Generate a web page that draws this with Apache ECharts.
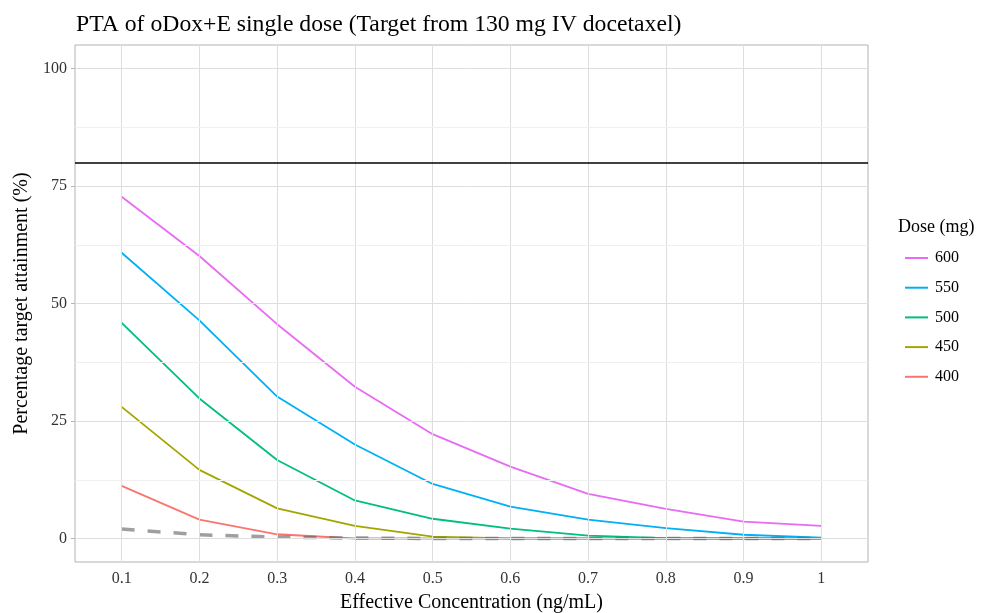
<!DOCTYPE html>
<html>
<head>
<meta charset="utf-8">
<script src="https://cdn.jsdelivr.net/npm/echarts@6/dist/echarts.min.js"></script>
<style>html,body{margin:0;padding:0;background:#fff;}#c{width:989px;height:613px;}</style>
</head>
<body>
<div id="c"></div>
<script>
const conc = [0.1, 0.2, 0.3, 0.4, 0.5, 0.6, 0.7, 0.8, 0.9, 1.0];
const dose400 = [11.2, 4.0, 0.9, 0.0, 0.0, 0.0, 0.0, 0.0, 0.0, 0.0];
const dose450 = [28.0, 14.6, 6.4, 2.7, 0.4, 0.0, 0.0, 0.0, 0.0, 0.0];
const dose500 = [45.9, 29.8, 16.7, 8.1, 4.2, 2.1, 0.6, 0.1, 0.0, 0.0];
const dose550 = [60.8, 46.4, 30.2, 20.0, 11.6, 6.8, 4.0, 2.2, 0.8, 0.2];
const dose600 = [72.7, 60.1, 45.6, 32.3, 22.2, 15.3, 9.5, 6.3, 3.6, 2.7];
const reference = [2.0, 0.8, 0.3, 0.1, 0.0, 0.0, 0.0, 0.0, 0.0, 0.0];
const target = 80;
const yTicks = [0, 25, 50, 75, 100];
const yMinor = [12.5, 37.5, 62.5, 87.5];
const doseNames = ['600', '550', '500', '450', '400'];

const font = 'Liberation Serif';
const pairs = v => conc.map((c, i) => [c, v[i]]);
const mk = (name, vals, color) => ({
  name, type: 'line', data: pairs(vals), symbol: 'none', showSymbol: false, z: 3,
  lineStyle: { color, width: 1.8, join: 'round', cap: 'round' }, itemStyle: { color }
});

const gridLines = [];
conc.forEach(c => gridLines.push({ xAxis: c, lineStyle: { color: '#dedede', width: 1, type: 'solid' } }));
yTicks.forEach(v => gridLines.push({ yAxis: v, lineStyle: { color: '#dedede', width: 1, type: 'solid' } }));
yMinor.forEach(v => gridLines.push({ yAxis: v, lineStyle: { color: '#efefef', width: 1, type: 'solid' } }));

const chart = echarts.init(document.getElementById('c'), null, { renderer: 'canvas' });
chart.setOption({
  animation: false,
  backgroundColor: '#fff',
  textStyle: { fontFamily: font },
  title: [
    { text: 'PTA of oDox+E single dose (Target from 130 mg IV docetaxel)', left: 71, top: 8,
      textStyle: { fontFamily: font, fontSize: 23.7, fontWeight: 'normal', color: '#000' } },
    { text: 'Dose (mg)', left: 893, top: 213,
      textStyle: { fontFamily: font, fontSize: 18, fontWeight: 'normal', color: '#000' } }
  ],
  legend: {
    data: doseNames, orient: 'vertical', left: 900, top: 245,
    icon: 'rect', itemWidth: 23, itemHeight: 2, itemGap: 13.7,
    textStyle: { fontFamily: font, fontSize: 16, lineHeight: 16, color: '#000', padding: [0, 0, 0, 2] }
  },
  grid: { left: 75, right: 121, top: 45, bottom: 51, show: true, borderColor: '#b3b3b3', borderWidth: 1,
    containLabel: false, outerBoundsMode: 'none' },
  xAxis: {
    type: 'value', min: 0.04, max: 1.06,
    name: 'Effective Concentration (ng/mL)', nameLocation: 'middle', nameGap: 31,
    nameTextStyle: { fontFamily: font, fontSize: 20, color: '#000' },
    axisLine: { show: false },
    axisTick: { show: true, customValues: conc, length: 4, lineStyle: { color: '#b3b3b3' } },
    axisLabel: { customValues: conc, margin: 9, fontFamily: font, fontSize: 16, color: '#333',
      formatter: v => (Math.abs(v - 1) < 1e-9 ? '1' : v.toFixed(1)) },
    splitLine: { show: false }
  },
  yAxis: {
    type: 'value', min: -5, max: 105,
    name: 'Percentage target attainment (%)', nameLocation: 'middle', nameGap: 34,
    nameTextStyle: { fontFamily: font, fontSize: 20, color: '#000' },
    axisLine: { show: false },
    axisTick: { show: true, customValues: yTicks, length: 4, lineStyle: { color: '#b3b3b3' } },
    axisLabel: { customValues: yTicks, margin: 8, fontFamily: font, fontSize: 16, color: '#333' },
    splitLine: { show: false }
  },
  series: [
    { type: 'line', data: [], z: 0, silent: true,
      markLine: { silent: true, symbol: 'none', label: { show: false }, animation: false, data: gridLines } },
    mk('400', dose400, '#F8766D'),
    mk('450', dose450, '#A3A500'),
    mk('500', dose500, '#00BF7D'),
    mk('550', dose550, '#00B0F6'),
    mk('600', dose600, '#E76BF3'),
    { type: 'line', data: pairs(reference), symbol: 'none', z: 4,
      lineStyle: { color: 'rgba(100,100,100,0.62)', width: 3.5, type: [13, 13] } },
    { type: 'line', data: [], z: 2, silent: true,
      markLine: { silent: true, symbol: 'none', label: { show: false },
        data: [{ yAxis: target, lineStyle: { color: '#000', width: 1.5, type: 'solid' } }] } }
  ]
});
</script>
</body>
</html>
